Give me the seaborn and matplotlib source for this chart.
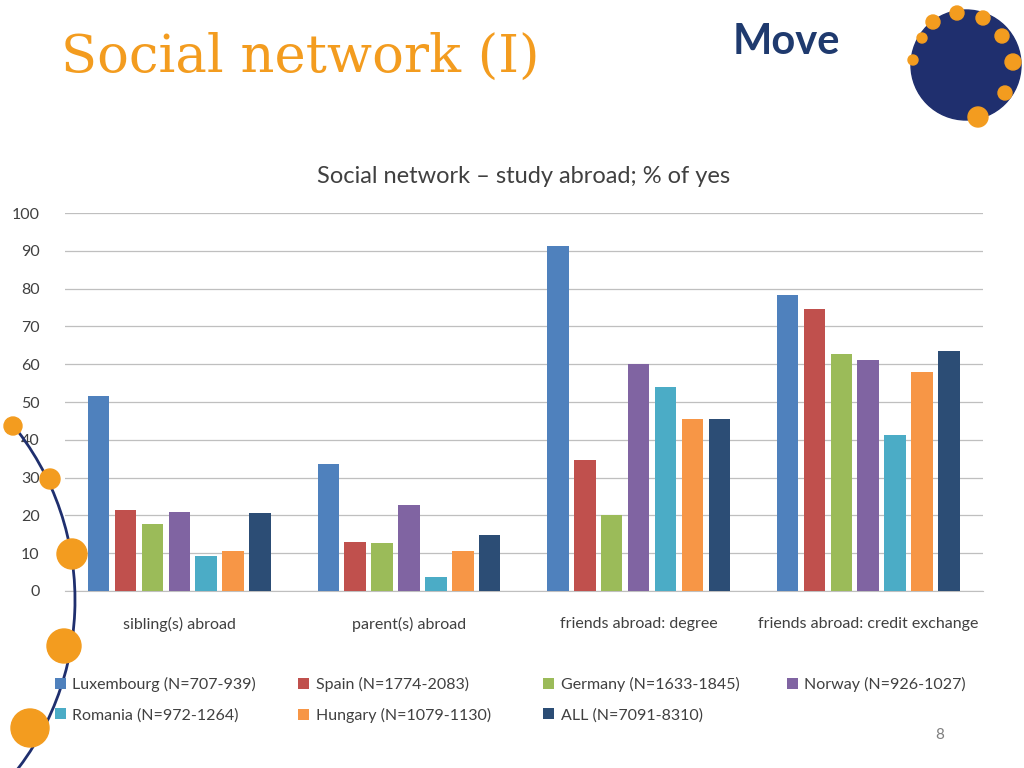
import matplotlib
matplotlib.use("Agg")
import matplotlib.pyplot as plt
import seaborn as sns
import pandas as pd
from matplotlib.patches import Circle, Arc

plt.rcParams["font.family"] = "Lato"

categories = ["sibling(s) abroad", "parent(s) abroad", "friends abroad: degree", "friends abroad: credit exchange"]
series = ["Luxembourg (N=707-939)", "Spain (N=1774-2083)", "Germany (N=1633-1845)", "Norway (N=926-1027)",
          "Romania (N=972-1264)", "Hungary (N=1079-1130)", "ALL (N=7091-8310)"]
lux = [51.7, 33.5, 91.2, 78.4]
spain = [21.3, 13.0, 34.6, 74.5]
germany = [17.8, 12.8, 20.0, 62.8]
norway = [21.0, 22.8, 60.2, 61.0]
romania = [9.3, 3.8, 54.0, 41.3]
hungary = [10.5, 10.5, 45.6, 58.0]
all_ = [20.6, 14.7, 45.4, 63.5]
colors = ["#4F81BD", "#C0504D", "#9BBB59", "#8064A2", "#4BACC6", "#F79646", "#2C4D75"]

rows = []
for s, vals in zip(series, [lux, spain, germany, norway, romania, hungary, all_]):
    for c, v in zip(categories, vals):
        rows.append({"cat": c, "series": s, "val": v})
df = pd.DataFrame(rows)

fig = plt.figure(figsize=(10.24, 7.68), dpi=100)
fig.patch.set_facecolor("white")
ax = fig.add_axes([0.063, 0.2305, 0.897, 0.492])
sns.barplot(data=df, x="cat", y="val", hue="series", palette=colors, ax=ax, saturation=1,
            width=0.82, gap=0.2, legend=True, zorder=3)
ax.set_ylim(0, 100)
ax.set_yticks(range(0, 101, 10))
ax.grid(axis="y", color="#BFBFBF", lw=0.9, zorder=0)
for sp in ["top", "right", "left"]:
    ax.spines[sp].set_visible(False)
ax.spines["bottom"].set_color("#BFBFBF")
ax.tick_params(length=0, labelsize=11.5, colors="#404040")
ax.tick_params(axis="x", pad=19)
ax.tick_params(axis="y", pad=18)
ax.set_xlabel(""); ax.set_ylabel("")
ax.set_title("Social network – study abroad; % of yes", fontsize=17, color="#404040", pad=22)
h, l = ax.get_legend_handles_labels()
ax.get_legend().remove()
xs = [0.047, 0.285, 0.524, 0.762]
for col in range(4):
    idx = [i for i in (col, col + 4) if i < len(h)]
    fig.legend([h[i] for i in idx], [l[i] for i in idx], loc="upper left", bbox_to_anchor=(xs[col], 0.127),
               ncol=1, frameon=False, fontsize=11.5, labelcolor="#404040", handlelength=0.7, handleheight=0.7,
               handletextpad=0.4, labelspacing=1.0, borderaxespad=0)

fig.text(0.06, 0.925, "Social network (I)", fontsize=38, color="#F39C1F", family="DejaVu Serif", va="center")
fig.text(0.715, 0.945, "Move", fontsize=30, color="#1F3A6E", weight="bold", va="center")
fig.text(0.913, 0.038, "8", fontsize=11, color="#7F7F7F")

gax = fig.add_axes([0, 0, 1, 1], facecolor="none")
gax.set_xlim(0, 1024); gax.set_ylim(768, 0); gax.axis("off")
gax.set_aspect("equal")
gax.add_patch(Circle((966, 65), 55, color="#1F2F6E"))
for (x, y, r) in [(933, 22, 7), (957, 13, 7), (983, 18, 7), (1002, 36, 7), (1013, 62, 8),
                  (1005, 93, 7), (978, 117, 10), (913, 60, 5), (922, 38, 5)]:
    gax.add_patch(Circle((x, y), r, color="#F39C1F"))
gax.add_patch(Arc((-203, 600), 556, 556, theta1=-40, theta2=45, color="#1F2F6E", lw=2))
for (x, y, r) in [(13, 426, 9), (50, 479, 10), (72, 554, 15), (64, 646, 17), (30, 728, 19)]:
    gax.add_patch(Circle((x, y), r, color="#F39C1F"))
fig.savefig("out.png", dpi=100)
